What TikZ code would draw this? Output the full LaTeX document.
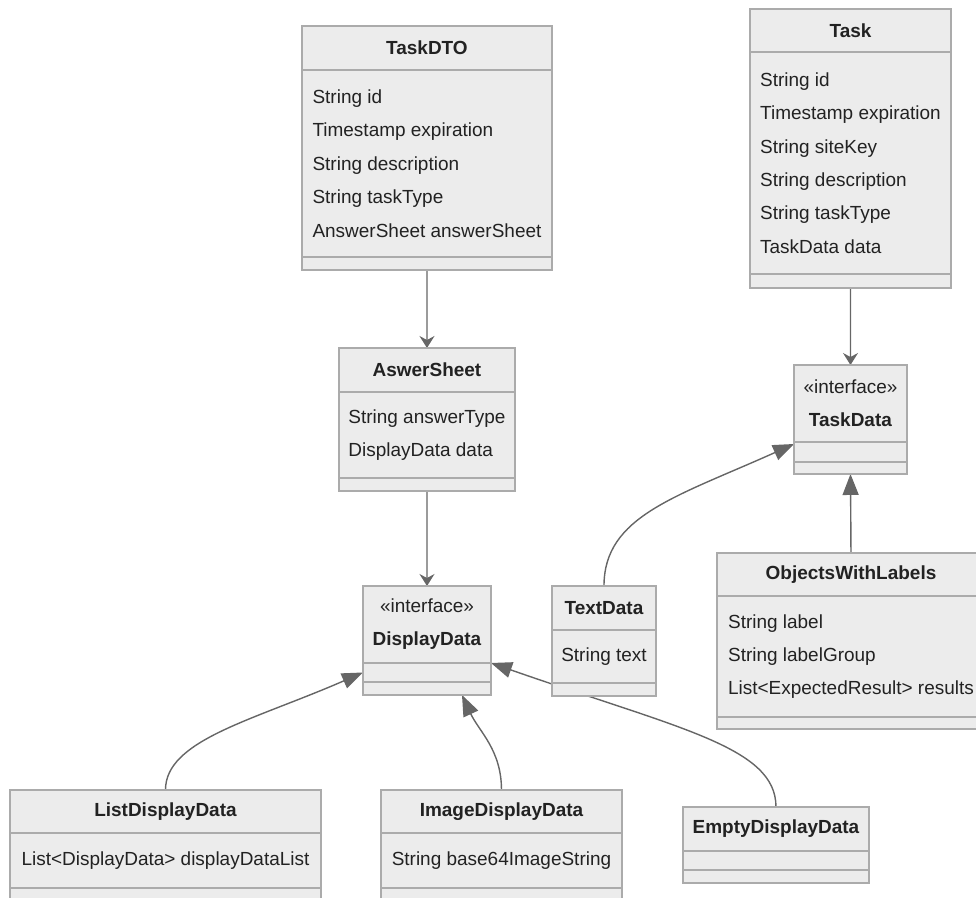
\documentclass[tikz,border=0pt]{standalone}
\usepackage{fontspec}
\setmainfont{Liberation Sans}
\usepackage{tikz}
\usetikzlibrary{arrows.meta, positioning}
\definecolor{boxfill}{HTML}{ECECEC}
\definecolor{boxline}{HTML}{ABABAB}
\definecolor{linkgray}{HTML}{666666}
\definecolor{textcol}{HTML}{222222}
\pgfdeclarelayer{bg}
\pgfsetlayers{bg,main}
\tikzstyle{classhead} = [rectangle, draw=boxline, fill=boxfill, line width=0.75pt, inner sep=0pt, outer sep=0pt, anchor=north west, text=textcol, font=\fontsize{10.8}{19}\selectfont\bfseries]
\tikzstyle{ifacehead} = [rectangle, draw=boxline, fill=boxfill, line width=0.75pt, inner sep=0pt, outer sep=0pt, anchor=north west, text=textcol, align=center, font=\fontsize{10.8}{18.7}\selectfont]
\tikzstyle{classattr} = [rectangle, draw=boxline, fill=boxfill, line width=0.75pt, inner xsep=0.18cm, inner ysep=0pt, outer sep=0pt, align=left, text=textcol, font=\fontsize{10.8}{19}\selectfont]
\tikzstyle{classops} = [rectangle, draw=boxline, fill=boxfill, line width=0.75pt, inner sep=0pt, outer sep=0pt]
\tikzstyle{assoc} = [draw=linkgray, line width=0.8pt, -{Stealth[length=0.24cm, width=0.3cm, inset=0.08cm]}]
\tikzstyle{inherit} = [draw=linkgray, line width=0.8pt, -{Triangle[length=0.42cm, width=0.32cm, fill=linkgray]}]

\begin{document}
\begin{tikzpicture}[x=0.02cm, y=-0.02cm]
\useasboundingbox (0,0) rectangle (976,898);
\clip (0,0) rectangle (976,898);

% TaskDTO
\node (taskdto) [classhead, minimum width=5cm, minimum height=0.88cm] at (302,26) {TaskDTO};
\node (taskdto-attr) [classattr, below=0pt of taskdto, minimum width=5cm, minimum height=3.74cm] {String id\\Timestamp expiration\\String description\\String taskType\\AnswerSheet answerSheet};
\node (taskdto-ops) [classops, below=0pt of taskdto-attr, minimum width=5cm, minimum height=0.26cm] {};

% Task
\node (task) [classhead, minimum width=4.02cm, minimum height=0.86cm] at (750,9) {Task};
\node (task-attr) [classattr, below=0pt of task, minimum width=4.02cm, minimum height=4.44cm] {String id\\Timestamp expiration\\String siteKey\\String description\\String taskType\\TaskData data};
\node (task-ops) [classops, below=0pt of task-attr, minimum width=4.02cm, minimum height=0.28cm] {};

% AswerSheet
\node (aswersheet) [classhead, minimum width=3.52cm, minimum height=0.88cm] at (339,348) {AswerSheet};
\node (aswersheet-attr) [classattr, below=0pt of aswersheet, minimum width=3.52cm, minimum height=1.72cm] {String answerType\\DisplayData data};
\node (aswersheet-ops) [classops, below=0pt of aswersheet-attr, minimum width=3.52cm, minimum height=0.26cm] {};

% TaskData
\node (taskdata) [ifacehead, minimum width=2.26cm, minimum height=1.54cm] at (794,365) {«interface»\\\textbf{TaskData}};
\node (taskdata-attr) [classops, below=0pt of taskdata, minimum width=2.26cm, minimum height=0.4cm] {};
\node (taskdata-ops) [classops, below=0pt of taskdata-attr, minimum width=2.26cm, minimum height=0.24cm] {};

% DisplayData
\node (displaydata) [ifacehead, minimum width=2.56cm, minimum height=1.54cm] at (363,586) {«interface»\\\textbf{DisplayData}};
\node (displaydata-attr) [classops, below=0pt of displaydata, minimum width=2.56cm, minimum height=0.38cm] {};
\node (displaydata-ops) [classops, below=0pt of displaydata-attr, minimum width=2.56cm, minimum height=0.26cm] {};

% TextData
\node (textdata) [classhead, minimum width=2.08cm, minimum height=0.88cm] at (552,586) {TextData};
\node (textdata-attr) [classattr, below=0pt of textdata, minimum width=2.08cm, minimum height=1.06cm] {String text};
\node (textdata-ops) [classops, below=0pt of textdata-attr, minimum width=2.08cm, minimum height=0.26cm] {};

% ObjectsWithLabels
\node (objects) [classhead, minimum width=5.36cm, minimum height=0.86cm] at (717,553) {ObjectsWithLabels};
\node (objects-attr) [classattr, below=0pt of objects, minimum width=5.36cm, minimum height=2.42cm] {String label\\String labelGroup\\List<ExpectedResult> results};
\node (objects-ops) [classops, below=0pt of objects-attr, minimum width=5.36cm, minimum height=0.24cm] {};

% ListDisplayData
\node (listdisplay) [classhead, minimum width=6.22cm, minimum height=0.86cm] at (10,790) {ListDisplayData};
\node (listdisplay-attr) [classattr, below=0pt of listdisplay, minimum width=6.22cm, minimum height=1.1cm] {List<DisplayData> displayDataList};
\node (listdisplay-ops) [classops, below=0pt of listdisplay-attr, minimum width=6.22cm, minimum height=0.26cm] {};

% ImageDisplayData
\node (imagedisplay) [classhead, minimum width=4.82cm, minimum height=0.86cm] at (381,790) {ImageDisplayData};
\node (imagedisplay-attr) [classattr, below=0pt of imagedisplay, minimum width=4.82cm, minimum height=1.1cm] {String base64ImageString};
\node (imagedisplay-ops) [classops, below=0pt of imagedisplay-attr, minimum width=4.82cm, minimum height=0.26cm] {};

% EmptyDisplayData
\node (emptydisplay) [classhead, minimum width=3.72cm, minimum height=0.88cm] at (683,807) {EmptyDisplayData};
\node (emptydisplay-attr) [classops, below=0pt of emptydisplay, minimum width=3.72cm, minimum height=0.38cm] {};
\node (emptydisplay-ops) [classops, below=0pt of emptydisplay-attr, minimum width=3.72cm, minimum height=0.26cm] {};

\begin{pgfonlayer}{bg}
\draw [assoc] (taskdto-ops.south) -- (aswersheet.north);
\draw [assoc] (task-ops.south) -- (taskdata.north);
\draw [assoc] (aswersheet-ops.south) -- (displaydata.north);
\draw [inherit] (objects.north) -- (taskdata-ops.south);
\draw [inherit] (textdata.north) .. controls +(0,-70) and +(-118,53) .. ([yshift=-0.04cm]taskdata-attr.north west);
\draw [inherit] (listdisplay.north) .. controls +(0,-50) and +(-110,48) .. (displaydata-attr.west);
\draw [inherit] (imagedisplay.north) to[out=90, in=-65] ([xshift=0.7cm]displaydata-ops.south);
\draw [inherit] (emptydisplay.north) .. controls +(0,-60) and +(189,66) .. (displaydata-attr.north east);
\end{pgfonlayer}
\end{tikzpicture}
\end{document}
